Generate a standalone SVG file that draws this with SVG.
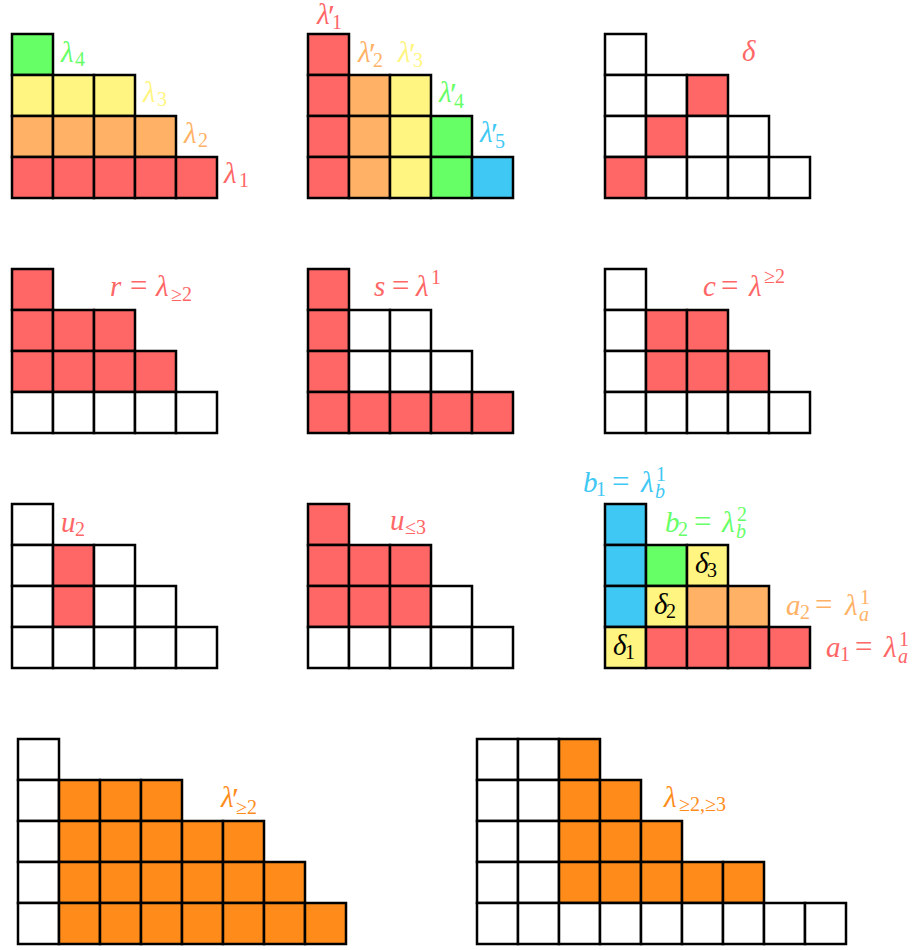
<svg xmlns="http://www.w3.org/2000/svg" width="918" height="950" viewBox="0 0 918 950">
<style>
rect{stroke:#000;stroke-width:2.5}
.R{fill:#FF6666}.O{fill:#FFB266}.Y{fill:#FFF580}.G{fill:#66FF66}.B{fill:#40C8F4}.D{fill:#FF8C1A}.W{fill:#FFFFFF}
.n{font-style:normal;font-size:31px}
.s{font-size:20px;font-style:normal}
.si{font-size:20px;font-style:italic}
.p{font-size:32px;font-style:normal}
.tR{fill:#FF6666}.tO{fill:#FFB266}.tY{fill:#FFF580}.tG{fill:#66FF66}.tB{fill:#40C8F4}.tD{fill:#FF8C1A}.tK{fill:#000}
</style>
<g id="d1">
<rect class="G" x="12" y="34" width="41" height="41"/>
<rect class="Y" x="12" y="75" width="41" height="41"/><rect class="Y" x="53" y="75" width="41" height="41"/><rect class="Y" x="94" y="75" width="41" height="41"/>
<rect class="O" x="12" y="116" width="41" height="41"/><rect class="O" x="53" y="116" width="41" height="41"/><rect class="O" x="94" y="116" width="41" height="41"/><rect class="O" x="135" y="116" width="41" height="41"/>
<rect class="R" x="12" y="157" width="41" height="41"/><rect class="R" x="53" y="157" width="41" height="41"/><rect class="R" x="94" y="157" width="41" height="41"/><rect class="R" x="135" y="157" width="41" height="41"/><rect class="R" x="176" y="157" width="41" height="41"/>
<text style="font-family:'Liberation Serif',serif;font-style:italic;font-size:29px" class="tG" x="61" y="62">λ<tspan class="s" x="75" y="66">4</tspan></text>
<text style="font-family:'Liberation Serif',serif;font-style:italic;font-size:29px" class="tY" x="143" y="102">λ<tspan class="s" x="157" y="106">3</tspan></text>
<text style="font-family:'Liberation Serif',serif;font-style:italic;font-size:29px" class="tO" x="184" y="143">λ<tspan class="s" x="198" y="147">2</tspan></text>
<text style="font-family:'Liberation Serif',serif;font-style:italic;font-size:29px" class="tR" x="224" y="183">λ<tspan class="s" x="239" y="187">1</tspan></text>
</g>
<g id="d2">
<rect class="R" x="308" y="34" width="41" height="41"/>
<rect class="R" x="308" y="75" width="41" height="41"/><rect class="O" x="349" y="75" width="41" height="41"/><rect class="Y" x="390" y="75" width="41" height="41"/>
<rect class="R" x="308" y="116" width="41" height="41"/><rect class="O" x="349" y="116" width="41" height="41"/><rect class="Y" x="390" y="116" width="41" height="41"/><rect class="G" x="431" y="116" width="41" height="41"/>
<rect class="R" x="308" y="157" width="41" height="41"/><rect class="O" x="349" y="157" width="41" height="41"/><rect class="Y" x="390" y="157" width="41" height="41"/><rect class="G" x="431" y="157" width="41" height="41"/><rect class="B" x="472" y="157" width="41" height="41"/>
<text style="font-family:'Liberation Serif',serif;font-style:italic;font-size:29px" class="tR" x="317" y="24">λ<tspan class="p" x="328" y="27">′</tspan><tspan class="s" x="332" y="29">1</tspan></text>
<text style="font-family:'Liberation Serif',serif;font-style:italic;font-size:29px" class="tO" x="358" y="62">λ<tspan class="p" x="369" y="65">′</tspan><tspan class="s" x="373" y="67">2</tspan></text>
<text style="font-family:'Liberation Serif',serif;font-style:italic;font-size:29px" class="tY" x="398" y="62">λ<tspan class="p" x="409" y="65">′</tspan><tspan class="s" x="413" y="67">3</tspan></text>
<text style="font-family:'Liberation Serif',serif;font-style:italic;font-size:29px" class="tG" x="439" y="102">λ<tspan class="p" x="450" y="105">′</tspan><tspan class="s" x="454" y="108">4</tspan></text>
<text style="font-family:'Liberation Serif',serif;font-style:italic;font-size:29px" class="tB" x="480" y="142">λ<tspan class="p" x="491" y="145">′</tspan><tspan class="s" x="495" y="148">5</tspan></text>
</g>
<g id="d3">
<rect class="W" x="605" y="34" width="41" height="41"/>
<rect class="W" x="605" y="75" width="41" height="41"/><rect class="W" x="646" y="75" width="41" height="41"/><rect class="R" x="687" y="75" width="41" height="41"/>
<rect class="W" x="605" y="116" width="41" height="41"/><rect class="R" x="646" y="116" width="41" height="41"/><rect class="W" x="687" y="116" width="41" height="41"/><rect class="W" x="728" y="116" width="41" height="41"/>
<rect class="R" x="605" y="157" width="41" height="41"/><rect class="W" x="646" y="157" width="41" height="41"/><rect class="W" x="687" y="157" width="41" height="41"/><rect class="W" x="728" y="157" width="41" height="41"/><rect class="W" x="769" y="157" width="41" height="41"/>
<text style="font-family:'Liberation Serif',serif;font-style:italic;font-size:29px" class="tR" x="742" y="61">δ</text>
</g>
<g id="d4">
<rect class="R" x="12" y="269" width="41" height="41"/>
<rect class="R" x="12" y="310" width="41" height="41"/><rect class="R" x="53" y="310" width="41" height="41"/><rect class="R" x="94" y="310" width="41" height="41"/>
<rect class="R" x="12" y="351" width="41" height="41"/><rect class="R" x="53" y="351" width="41" height="41"/><rect class="R" x="94" y="351" width="41" height="41"/><rect class="R" x="135" y="351" width="41" height="41"/>
<rect class="W" x="12" y="392" width="41" height="41"/><rect class="W" x="53" y="392" width="41" height="41"/><rect class="W" x="94" y="392" width="41" height="41"/><rect class="W" x="135" y="392" width="41" height="41"/><rect class="W" x="176" y="392" width="41" height="41"/>
<text style="font-family:'Liberation Serif',serif;font-style:italic;font-size:29px" class="tR" x="110" y="296">r<tspan class="n" x="130">=</tspan><tspan x="156">λ</tspan><tspan class="s" x="171" y="301">≥2</tspan></text>
</g>
<g id="d5">
<rect class="R" x="308" y="269" width="41" height="41"/>
<rect class="R" x="308" y="310" width="41" height="41"/><rect class="W" x="349" y="310" width="41" height="41"/><rect class="W" x="390" y="310" width="41" height="41"/>
<rect class="R" x="308" y="351" width="41" height="41"/><rect class="W" x="349" y="351" width="41" height="41"/><rect class="W" x="390" y="351" width="41" height="41"/><rect class="W" x="431" y="351" width="41" height="41"/>
<rect class="R" x="308" y="392" width="41" height="41"/><rect class="R" x="349" y="392" width="41" height="41"/><rect class="R" x="390" y="392" width="41" height="41"/><rect class="R" x="431" y="392" width="41" height="41"/><rect class="R" x="472" y="392" width="41" height="41"/>
<text style="font-family:'Liberation Serif',serif;font-style:italic;font-size:29px" class="tR" x="374" y="296">s<tspan class="n" x="392">=</tspan><tspan x="416">λ</tspan><tspan class="s" x="431" y="284">1</tspan></text>
</g>
<g id="d6">
<rect class="W" x="605" y="269" width="41" height="41"/>
<rect class="W" x="605" y="310" width="41" height="41"/><rect class="R" x="646" y="310" width="41" height="41"/><rect class="R" x="687" y="310" width="41" height="41"/>
<rect class="W" x="605" y="351" width="41" height="41"/><rect class="R" x="646" y="351" width="41" height="41"/><rect class="R" x="687" y="351" width="41" height="41"/><rect class="R" x="728" y="351" width="41" height="41"/>
<rect class="W" x="605" y="392" width="41" height="41"/><rect class="W" x="646" y="392" width="41" height="41"/><rect class="W" x="687" y="392" width="41" height="41"/><rect class="W" x="728" y="392" width="41" height="41"/><rect class="W" x="769" y="392" width="41" height="41"/>
<text style="font-family:'Liberation Serif',serif;font-style:italic;font-size:29px" class="tR" x="703" y="296">c<tspan class="n" x="721">=</tspan><tspan x="749">λ</tspan><tspan class="s" x="764" y="283">≥2</tspan></text>
</g>
<g id="d7">
<rect class="W" x="12" y="504" width="41" height="41"/>
<rect class="W" x="12" y="545" width="41" height="41"/><rect class="R" x="53" y="545" width="41" height="41"/><rect class="W" x="94" y="545" width="41" height="41"/>
<rect class="W" x="12" y="586" width="41" height="41"/><rect class="R" x="53" y="586" width="41" height="41"/><rect class="W" x="94" y="586" width="41" height="41"/><rect class="W" x="135" y="586" width="41" height="41"/>
<rect class="W" x="12" y="627" width="41" height="41"/><rect class="W" x="53" y="627" width="41" height="41"/><rect class="W" x="94" y="627" width="41" height="41"/><rect class="W" x="135" y="627" width="41" height="41"/><rect class="W" x="176" y="627" width="41" height="41"/>
<text style="font-family:'Liberation Serif',serif;font-style:italic;font-size:29px" class="tR" x="61" y="532">u<tspan class="s" x="75" y="536">2</tspan></text>
</g>
<g id="d8">
<rect class="R" x="308" y="504" width="41" height="41"/>
<rect class="R" x="308" y="545" width="41" height="41"/><rect class="R" x="349" y="545" width="41" height="41"/><rect class="R" x="390" y="545" width="41" height="41"/>
<rect class="R" x="308" y="586" width="41" height="41"/><rect class="R" x="349" y="586" width="41" height="41"/><rect class="R" x="390" y="586" width="41" height="41"/><rect class="W" x="431" y="586" width="41" height="41"/>
<rect class="W" x="308" y="627" width="41" height="41"/><rect class="W" x="349" y="627" width="41" height="41"/><rect class="W" x="390" y="627" width="41" height="41"/><rect class="W" x="431" y="627" width="41" height="41"/><rect class="W" x="472" y="627" width="41" height="41"/>
<text style="font-family:'Liberation Serif',serif;font-style:italic;font-size:29px" class="tR" x="390" y="530">u<tspan class="s" x="405" y="534">≤3</tspan></text>
</g>
<g id="d9">
<rect class="B" x="605" y="504" width="41" height="41"/>
<rect class="B" x="605" y="545" width="41" height="41"/><rect class="G" x="646" y="545" width="41" height="41"/><rect class="Y" x="687" y="545" width="41" height="41"/>
<rect class="B" x="605" y="586" width="41" height="41"/><rect class="Y" x="646" y="586" width="41" height="41"/><rect class="O" x="687" y="586" width="41" height="41"/><rect class="O" x="728" y="586" width="41" height="41"/>
<rect class="Y" x="605" y="627" width="41" height="41"/><rect class="R" x="646" y="627" width="41" height="41"/><rect class="R" x="687" y="627" width="41" height="41"/><rect class="R" x="728" y="627" width="41" height="41"/><rect class="R" x="769" y="627" width="41" height="41"/>
<text style="font-family:'Liberation Serif',serif;font-style:italic;font-size:29px" class="tK" x="695" y="573">δ<tspan class="s" x="707" y="577">3</tspan></text>
<text style="font-family:'Liberation Serif',serif;font-style:italic;font-size:29px" class="tK" x="654" y="614">δ<tspan class="s" x="666" y="618">2</tspan></text>
<text style="font-family:'Liberation Serif',serif;font-style:italic;font-size:29px" class="tK" x="613" y="655">δ<tspan class="s" x="625" y="659">1</tspan></text>
<text style="font-family:'Liberation Serif',serif;font-style:italic;font-size:29px" class="tB" x="583" y="492">b<tspan class="s" x="596" y="496">1</tspan><tspan class="n" x="612" y="492">=</tspan><tspan x="641">λ</tspan><tspan class="s" x="656" y="481">1</tspan><tspan class="si" x="655" y="498">b</tspan></text>
<text style="font-family:'Liberation Serif',serif;font-style:italic;font-size:29px" class="tG" x="665" y="532">b<tspan class="s" x="678" y="536">2</tspan><tspan class="n" x="694" y="532">=</tspan><tspan x="722">λ</tspan><tspan class="s" x="737" y="521">2</tspan><tspan class="si" x="736" y="538">b</tspan></text>
<text style="font-family:'Liberation Serif',serif;font-style:italic;font-size:29px" class="tO" x="786" y="615">a<tspan class="s" x="800" y="619">2</tspan><tspan class="n" x="815" y="615">=</tspan><tspan x="845">λ</tspan><tspan class="s" x="860" y="604">1</tspan><tspan class="si" x="859" y="621">a</tspan></text>
<text style="font-family:'Liberation Serif',serif;font-style:italic;font-size:29px" class="tR" x="826" y="657">a<tspan class="s" x="840" y="661">1</tspan><tspan class="n" x="855" y="657">=</tspan><tspan x="884">λ</tspan><tspan class="s" x="899" y="646">1</tspan><tspan class="si" x="898" y="663">a</tspan></text>
</g>
<g id="d10">
<rect class="W" x="18" y="739" width="41" height="41"/>
<rect class="W" x="18" y="780" width="41" height="41"/><rect class="D" x="59" y="780" width="41" height="41"/><rect class="D" x="100" y="780" width="41" height="41"/><rect class="D" x="141" y="780" width="41" height="41"/>
<rect class="W" x="18" y="821" width="41" height="41"/><rect class="D" x="59" y="821" width="41" height="41"/><rect class="D" x="100" y="821" width="41" height="41"/><rect class="D" x="141" y="821" width="41" height="41"/><rect class="D" x="182" y="821" width="41" height="41"/><rect class="D" x="223" y="821" width="41" height="41"/>
<rect class="W" x="18" y="862" width="41" height="41"/><rect class="D" x="59" y="862" width="41" height="41"/><rect class="D" x="100" y="862" width="41" height="41"/><rect class="D" x="141" y="862" width="41" height="41"/><rect class="D" x="182" y="862" width="41" height="41"/><rect class="D" x="223" y="862" width="41" height="41"/><rect class="D" x="264" y="862" width="41" height="41"/>
<rect class="W" x="18" y="903" width="41" height="41"/><rect class="D" x="59" y="903" width="41" height="41"/><rect class="D" x="100" y="903" width="41" height="41"/><rect class="D" x="141" y="903" width="41" height="41"/><rect class="D" x="182" y="903" width="41" height="41"/><rect class="D" x="223" y="903" width="41" height="41"/><rect class="D" x="264" y="903" width="41" height="41"/><rect class="D" x="305" y="903" width="41" height="41"/>
<text style="font-family:'Liberation Serif',serif;font-style:italic;font-size:29px" class="tD" x="221" y="807">λ<tspan class="p" x="232" y="810">′</tspan><tspan class="s" x="236" y="814">≥2</tspan></text>
</g>
<g id="d11">
<rect class="W" x="477" y="739" width="41" height="41"/><rect class="W" x="518" y="739" width="41" height="41"/><rect class="D" x="559" y="739" width="41" height="41"/>
<rect class="W" x="477" y="780" width="41" height="41"/><rect class="W" x="518" y="780" width="41" height="41"/><rect class="D" x="559" y="780" width="41" height="41"/><rect class="D" x="600" y="780" width="41" height="41"/>
<rect class="W" x="477" y="821" width="41" height="41"/><rect class="W" x="518" y="821" width="41" height="41"/><rect class="D" x="559" y="821" width="41" height="41"/><rect class="D" x="600" y="821" width="41" height="41"/><rect class="D" x="641" y="821" width="41" height="41"/>
<rect class="W" x="477" y="862" width="41" height="41"/><rect class="W" x="518" y="862" width="41" height="41"/><rect class="D" x="559" y="862" width="41" height="41"/><rect class="D" x="600" y="862" width="41" height="41"/><rect class="D" x="641" y="862" width="41" height="41"/><rect class="D" x="682" y="862" width="41" height="41"/><rect class="D" x="723" y="862" width="41" height="41"/>
<rect class="W" x="477" y="903" width="41" height="41"/><rect class="W" x="518" y="903" width="41" height="41"/><rect class="W" x="559" y="903" width="41" height="41"/><rect class="W" x="600" y="903" width="41" height="41"/><rect class="W" x="641" y="903" width="41" height="41"/><rect class="W" x="682" y="903" width="41" height="41"/><rect class="W" x="723" y="903" width="41" height="41"/><rect class="W" x="764" y="903" width="41" height="41"/><rect class="W" x="805" y="903" width="41" height="41"/>
<text style="font-family:'Liberation Serif',serif;font-style:italic;font-size:29px" class="tD" x="664" y="807">λ<tspan class="s" x="679" y="811">≥2,≥3</tspan></text>
</g>
<g id="connectors"/>
</svg>
